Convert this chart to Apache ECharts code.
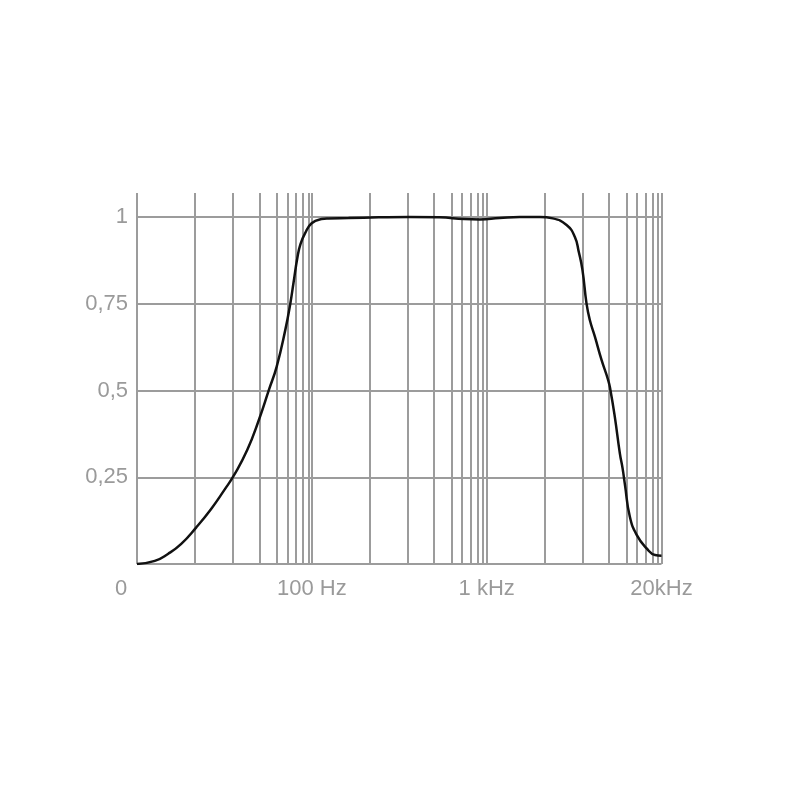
<!DOCTYPE html>
<html><head><meta charset="utf-8">
<script src="https://cdn.jsdelivr.net/npm/echarts@6/dist/echarts.min.js"></script>
<style>html,body{margin:0;padding:0;background:#fff}#c{width:800px;height:800px}</style>
</head><body><div id="c"></div>
<script>
// x is in "decades" of the drawn frequency scale: 0 = 10 Hz, 1 = 100 Hz, 2 = 1 kHz, 3 = end (20kHz label)
const xTickValues = [0, 1, 2, 3];
const xTickLabels = ['0', '100 Hz', '1 kHz', '20kHz'];
const yTickValues = [0, 0.25, 0.5, 0.75, 1];
const yTickLabels = ['', '0,25', '0,5', '0,75', '1'];
// positions of the minor grid lines inside one decade (2..9)
const minorOffsets = [0.334, 0.55, 0.70, 0.80, 0.863, 0.91, 0.948, 0.979];
const decades = [0, 1, 2];
// response curve: [x position, relative level]
const curveX = [0, 0.102, 0.177, 0.253, 0.338, 0.423, 0.499, 0.555, 0.631, 0.697, 0.754, 0.799, 0.848, 0.877, 0.895, 0.918, 0.935, 0.961, 0.999, 1.055, 1.095, 1.210, 1.383, 1.556, 1.729, 1.873, 1.960, 2.074, 2.189, 2.304, 2.378, 2.457, 2.504, 2.527, 2.548, 2.571, 2.590, 2.619, 2.657, 2.695, 2.708, 2.733, 2.762, 2.777, 2.791, 2.819, 2.858, 2.915, 2.963, 3.0];
const curveY = [0, 0.009, 0.029, 0.058, 0.105, 0.158, 0.213, 0.256, 0.329, 0.415, 0.501, 0.569, 0.674, 0.751, 0.810, 0.885, 0.922, 0.953, 0.982, 0.994, 0.996, 0.997, 0.999, 1.0, 0.999, 0.994, 0.993, 0.997, 1.0, 1.0, 0.996, 0.977, 0.943, 0.899, 0.847, 0.751, 0.703, 0.655, 0.588, 0.530, 0.501, 0.424, 0.318, 0.277, 0.228, 0.136, 0.084, 0.045, 0.026, 0.024];
const yTop = 1.0692;

const vLines = [];
xTickValues.forEach(v => vLines.push(v));
decades.forEach(d => minorOffsets.forEach(o => vLines.push(d + o)));
const gridLines = vLines.map(v => ({xAxis: v})).concat(yTickValues.map(v => ({yAxis: v})));

const chart = echarts.init(document.getElementById('c'), null, {renderer: 'canvas'});
const labelFont = {color: '#9a9a9a', fontSize: 22, fontFamily: '"Liberation Sans", Arial, sans-serif'};
chart.setOption({
  animation: false,
  backgroundColor: '#fff',
  grid: {left: 137, right: 138.5, top: 193, bottom: 236, containLabel: false},
  xAxis: {
    type: 'value', min: 0, max: 3, interval: 1,
    axisLine: {show: false}, axisTick: {show: false}, splitLine: {show: false},
    axisLabel: Object.assign({}, labelFont, {
      margin: 14,
      formatter: v => {
        const i = xTickValues.indexOf(v);
        if (i < 0) return '';
        return i === 0 ? '{z|' + xTickLabels[0] + '}' : xTickLabels[i];
      },
      rich: {z: Object.assign({}, labelFont, {padding: [0, 32, 0, 0]})}
    })
  },
  yAxis: {
    type: 'value', min: 0, max: yTop, interval: 0.25,
    axisLine: {show: false}, axisTick: {show: false}, splitLine: {show: false},
    axisLabel: Object.assign({}, labelFont, {
      margin: 9, showMaxLabel: false,
      formatter: v => {
        const i = yTickValues.findIndex(t => Math.abs(t - v) < 1e-6);
        return i < 0 ? '' : yTickLabels[i];
      }
    })
  },
  series: [
    {
      type: 'line', data: [], silent: true, z: 1,
      markLine: {
        silent: true, symbol: 'none', z: 1, animation: false,
        label: {show: false},
        lineStyle: {color: '#9c9c9c', width: 2, type: 'solid'},
        emphasis: {disabled: true},
        data: gridLines
      }
    },
    {
      type: 'line', z: 10, smooth: 0.5, symbol: 'none', silent: true,
      lineStyle: {color: '#111', width: 2.5},
      data: curveX.map((x, i) => [x, curveY[i]])
    }
  ]
});
</script></body></html>
